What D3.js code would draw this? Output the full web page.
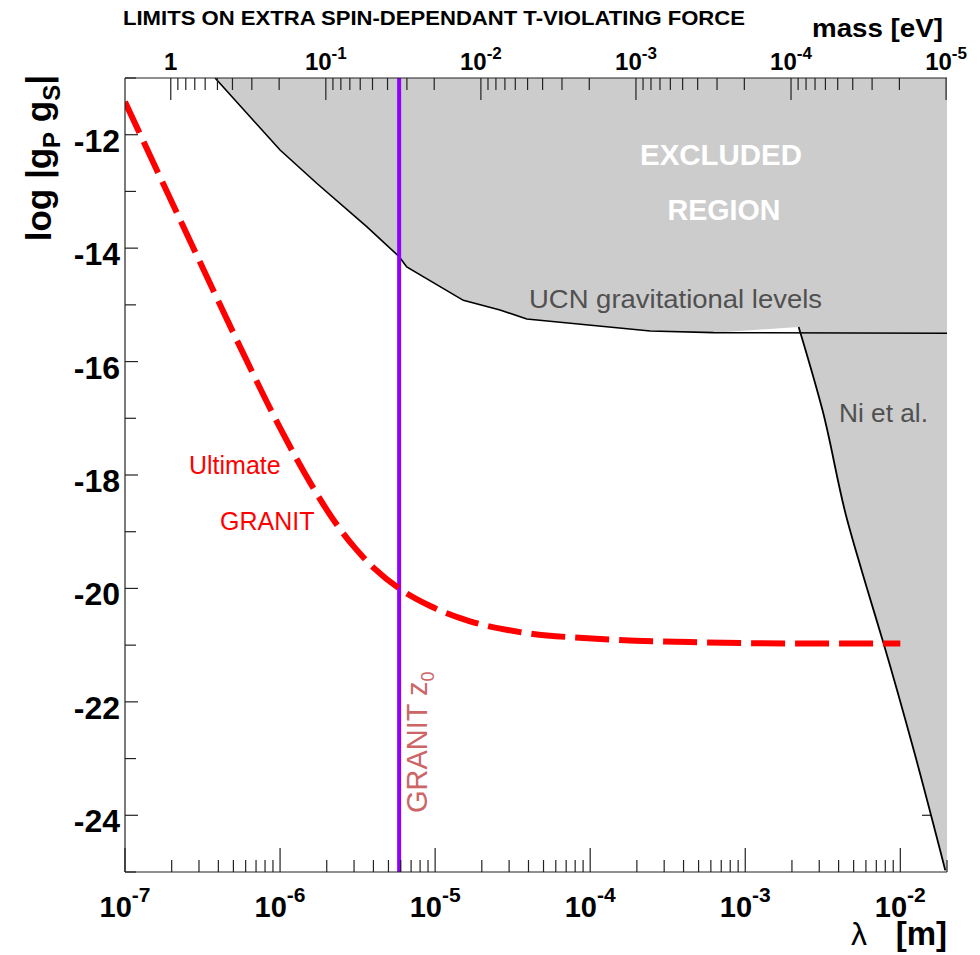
<!DOCTYPE html>
<html>
<head>
<meta charset="utf-8">
<script src="https://cdn.jsdelivr.net/npm/d3@7"></script>
<style>
  body { margin: 0; background: #fff; }
  svg text { font-family: "Liberation Sans", Arial, Helvetica, sans-serif; }
</style>
</head>
<body>
<svg id="chart"></svg>
<script>
const width = 980;
const height = 955;

// limit curves: lambda in m, log|gP gS|
const ucnLambda = [3.81e-7, 1.0e-6, 1.73e-6, 3.62e-6, 5.86e-6, 6.56e-6, 1.52e-5, 2.62e-5, 3.9e-5, 2.44e-4, 6.25e-4, 2.0e-2];
const ucnLimit  = [-11.0, -12.27, -12.86, -13.62, -14.15, -14.33, -14.92, -15.09, -15.25, -15.46, -15.49, -15.5];

const niLambda = [2.21e-3, 3.15e-3, 4.5e-3, 6.1e-3, 7.8e-3, 1.22e-2, 1.95e-2];
const niLimit  = [-15.39, -16.86, -18.75, -20.0, -20.97, -22.85, -24.97];

const granitLambda = [1e-7, 3.05e-7, 5.52e-7, 1.0e-6, 1.56e-6, 2.26e-6, 3.05e-6, 4.1e-6, 5.86e-6, 9.3e-6, 1.68e-5, 3.53e-5, 1.16e-4, 5.13e-4, 2.26e-3, 1.0e-2];
const granitLimit  = [-11.42, -14.25, -15.74, -17.17, -18.13, -18.83, -19.29, -19.66, -20.0, -20.31, -20.58, -20.77, -20.89, -20.95, -20.97, -20.97];

const z0 = 5.86e-6;          // GRANIT z0 [m]
const hbarC = 1.973e-7;      // eV m, mass = hbarC / lambda

const lambdaDomain = [1e-7, 2e-2];
const gDomain = [-25, -11];
const yMajor = [-12, -14, -16, -18, -20, -22, -24];
const yMinor = [-11, -13, -15, -17, -19, -21, -23, -25];
const lambdaExp = [-7, -6, -5, -4, -3, -2];
const massExp = [0, -1, -2, -3, -4, -5];

const m = { left: 125, right: 947, top: 78, bottom: 872 };

const svg = d3.select("#chart").attr("width", width).attr("height", height);

const x = d3.scaleLog().domain(lambdaDomain).range([m.left, m.right]);
const y = d3.scaleLinear().domain(gDomain).range([m.bottom, m.top]);
const xm = d3.scaleLog().domain([hbarC / lambdaDomain[0], hbarC / lambdaDomain[1]]).range([m.left, m.right]);

svg.append("defs").append("clipPath").attr("id", "plot")
  .append("rect").attr("x", m.left).attr("y", m.top)
  .attr("width", m.right - m.left).attr("height", m.bottom - m.top);

const zip = (a, b) => a.map((v, i) => [v, b[i]]);
const line = d3.line().x(d => x(d[0])).y(d => y(d[1]));
const niLine = d3.line().x(d => x(d[0])).y(d => y(d[1])).curve(d3.curveMonotoneY);

// right axis ticks (mostly hidden under the excluded region)
svg.append("g").selectAll("line").data(yMajor).join("line")
  .attr("x1", m.right - 25).attr("x2", m.right)
  .attr("y1", d => y(d)).attr("y2", d => y(d))
  .attr("stroke", "#222").attr("stroke-width", 1.2);

// excluded region
const ucnPts = zip(ucnLambda, ucnLimit).filter(d => d[0] < niLambda[0]);
const niPts = zip(niLambda, niLimit);
const plot = svg.append("g").attr("clip-path", "url(#plot)");
const regionPath = line(ucnPts) + niLine(niPts).replace(/^M/, "L") +
  "L" + x(lambdaDomain[1]) + "," + y(gDomain[0]) +
  "L" + x(lambdaDomain[1]) + "," + y(gDomain[1]) + "Z";
plot.append("path").attr("d", regionPath).attr("fill", "#cccccc");

plot.append("path").attr("d", line(zip(ucnLambda, ucnLimit)))
  .attr("fill", "none").attr("stroke", "#000").attr("stroke-width", 1.6);
plot.append("path").attr("d", niLine(niPts))
  .attr("fill", "none").attr("stroke", "#000").attr("stroke-width", 1.8);

// GRANIT z0
plot.append("line")
  .attr("x1", x(z0)).attr("x2", x(z0)).attr("y1", m.top).attr("y2", m.bottom)
  .attr("stroke", "#8f00ff").attr("stroke-width", 4);

// ultimate GRANIT sensitivity
plot.append("path")
  .attr("d", d3.line().x(d => x(d[0])).y(d => y(d[1])).curve(d3.curveMonotoneX)(zip(granitLambda, granitLimit)))
  .attr("fill", "none").attr("stroke", "#ff0000").attr("stroke-width", 6)
  .attr("stroke-dasharray", "34,10");

// frame
const axisCol = "#222";
svg.append("line").attr("x1", m.left).attr("x2", m.left).attr("y1", m.top).attr("y2", m.bottom)
  .attr("stroke", axisCol).attr("stroke-width", 1.2);
svg.append("line").attr("x1", m.left).attr("x2", m.right).attr("y1", m.bottom).attr("y2", m.bottom)
  .attr("stroke", axisCol).attr("stroke-width", 1.2);
svg.append("line").attr("x1", m.left).attr("x2", m.right).attr("y1", m.top).attr("y2", m.top)
  .attr("stroke", axisCol).attr("stroke-width", 1.2);

// bottom axis ticks
const lamTicks = [];
lambdaExp.forEach(e => d3.range(1, 10).forEach(k => {
  const v = k * Math.pow(10, e);
  if (v >= lambdaDomain[0] * 0.999 && v <= lambdaDomain[1] * 1.001) lamTicks.push({ v, major: k === 1 });
}));
svg.append("g").selectAll("line").data(lamTicks).join("line")
  .attr("x1", d => x(d.v)).attr("x2", d => x(d.v))
  .attr("y1", m.bottom).attr("y2", d => m.bottom - (d.major ? 24 : 12))
  .attr("stroke", axisCol).attr("stroke-width", 1.2);

const bl = svg.append("g").selectAll("text").data(lambdaExp).join("text")
  .attr("x", d => x(Math.pow(10, d))).attr("y", 917)
  .attr("text-anchor", "middle").attr("font-weight", "bold").attr("font-size", 29);
bl.append("tspan").text("10");
bl.append("tspan").attr("font-size", 21).attr("dy", -15).text(d => d);

// top axis (mass)
const massTicks = [];
massExp.forEach(e => d3.range(1, 10).forEach(k => {
  const v = k * Math.pow(10, e);
  const px = xm(v);
  if (px >= m.left - 0.5 && px <= m.right + 0.5) massTicks.push({ v, major: k === 1 });
}));
svg.append("g").selectAll("line").data(massTicks).join("line")
  .attr("x1", d => xm(d.v)).attr("x2", d => xm(d.v))
  .attr("y1", m.top).attr("y2", d => m.top + (d.major ? 22 : 12))
  .attr("stroke", axisCol).attr("stroke-width", 1.2);

const tl = svg.append("g").selectAll("text").data(massExp).join("text")
  .attr("x", d => xm(Math.pow(10, d))).attr("y", 70)
  .attr("text-anchor", "middle").attr("font-weight", "bold").attr("font-size", 24);
tl.append("tspan").text(d => d === 0 ? "1" : "10");
tl.filter(d => d !== 0).append("tspan").attr("font-size", 17).attr("dy", -11).text(d => d);

// left axis
svg.append("g").selectAll("line").data(yMajor.map(v => ({ v, major: true })).concat(yMinor.map(v => ({ v, major: false }))))
  .join("line")
  .attr("x1", m.left).attr("x2", d => m.left + (d.major ? 13 : 11))
  .attr("y1", d => y(d.v)).attr("y2", d => y(d.v))
  .attr("stroke", axisCol).attr("stroke-width", 1.2);
svg.append("g").selectAll("text").data(yMajor).join("text")
  .attr("x", 120).attr("y", d => y(d) + 17)
  .attr("text-anchor", "end").attr("font-weight", "bold").attr("font-size", 32)
  .text(d => d);

// titles
svg.append("text").attr("x", 123).attr("y", 25)
  .attr("font-weight", "bold").attr("font-size", 19.5)
  .attr("textLength", 622).attr("lengthAdjust", "spacingAndGlyphs")
  .text("LIMITS ON EXTRA SPIN-DEPENDANT T-VIOLATING FORCE");
svg.append("text").attr("x", 812).attr("y", 37)
  .attr("font-weight", "bold").attr("font-size", 25)
  .attr("textLength", 131).attr("lengthAdjust", "spacingAndGlyphs")
  .text("mass [eV]");

const yl = svg.append("text")
  .attr("transform", "translate(51,75) rotate(-90)")
  .attr("text-anchor", "end").attr("font-weight", "bold").attr("font-size", 35);
yl.append("tspan").text("log |g");
yl.append("tspan").attr("font-size", 24).attr("dy", 9).text("P");
yl.append("tspan").attr("dy", -9).text(" g");
yl.append("tspan").attr("font-size", 24).attr("dy", 9).text("S");
yl.append("tspan").attr("dy", -9).text("|");

svg.append("text").attr("x", 947).attr("y", 945).attr("text-anchor", "end")
  .attr("font-weight", "bold").attr("font-size", 33).text("[m]");
svg.append("text").attr("x", 867).attr("y", 945).attr("text-anchor", "end")
  .attr("font-family", "DejaVu Serif, serif").attr("font-size", 32).text("λ");

// annotations
svg.append("text").attr("x", 721).attr("y", 165).attr("text-anchor", "middle")
  .attr("fill", "#fff").attr("font-weight", "bold").attr("font-size", 29)
  .attr("textLength", 162).attr("lengthAdjust", "spacingAndGlyphs").text("EXCLUDED");
svg.append("text").attr("x", 724).attr("y", 220).attr("text-anchor", "middle")
  .attr("fill", "#fff").attr("font-weight", "bold").attr("font-size", 29)
  .attr("textLength", 113).attr("lengthAdjust", "spacingAndGlyphs").text("REGION");
svg.append("text").attr("x", 529).attr("y", 308).attr("fill", "#505050")
  .attr("font-size", 26).attr("textLength", 293).attr("lengthAdjust", "spacingAndGlyphs")
  .text("UCN gravitational levels");
svg.append("text").attr("x", 839).attr("y", 422).attr("fill", "#505050")
  .attr("font-size", 26).attr("textLength", 89).attr("lengthAdjust", "spacingAndGlyphs")
  .text("Ni et al.");
svg.append("text").attr("x", 189).attr("y", 474).attr("fill", "#ff0000")
  .attr("font-size", 25).text("Ultimate");
svg.append("text").attr("x", 220).attr("y", 530).attr("fill", "#ff0000")
  .attr("font-size", 25).text("GRANIT");

const gz = svg.append("text")
  .attr("transform", "translate(427,813) rotate(-90)")
  .attr("fill", "#cc6666").attr("font-size", 29);
gz.append("tspan").text("GRANIT z");
gz.append("tspan").attr("font-size", 18).attr("dy", 7).text("0");
</script>
</body>
</html>
